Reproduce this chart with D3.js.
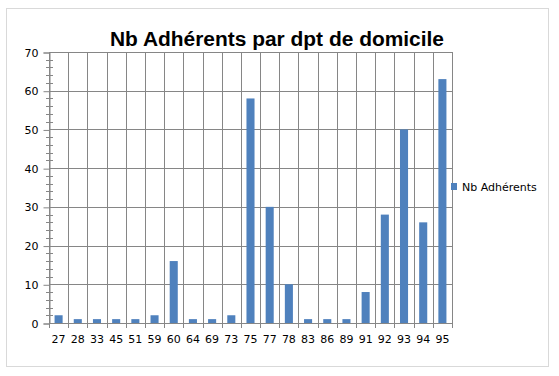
<!DOCTYPE html>
<html>
<head>
<meta charset="utf-8">
<script src="https://cdn.jsdelivr.net/npm/d3@7"></script>
<style>
  body { margin: 0; background: #fff; }
  svg { display: block; }
</style>
</head>
<body>
<svg></svg>
<script>
// Données : départements et nombre d'adhérents
const depts = ["27", "28", "33", "45", "51", "59", "60", "64", "69", "73", "75",
               "77", "78", "83", "86", "89", "91", "92", "93", "94", "95"];
const adherents = [2, 1, 1, 1, 1, 2, 16, 1, 1, 2, 58, 30, 10, 1, 1, 1, 8, 28, 50, 26, 63];
const yTicks = [0, 10, 20, 30, 40, 50, 60, 70];
const titre = "Nb Adhérents par dpt de domicile";
const serie = "Nb Adhérents";

const width = 559;
const height = 376;
const plot = { left: 49, right: 452, top: 52, bottom: 323 };
const barColor = "#4f81bd";
const gridColor = "#868686";

const svg = d3.select("svg")
    .attr("width", width)
    .attr("height", height);

// cadre du graphique
svg.append("rect")
    .attr("x", 6.5).attr("y", 8.5)
    .attr("width", 542).attr("height", 358)
    .attr("fill", "#fff")
    .attr("stroke", "#d9d9d9");

const x = d3.scaleBand()
    .domain(depts)
    .range([plot.left, plot.right])
    .paddingInner(0.58)
    .paddingOuter(0.29);

const y = d3.scaleLinear()
    .domain([0, 70])
    .range([plot.bottom, plot.top]);

// titre
const t = svg.append("text")
    .attr("x", 277)
    .attr("y", 46)
    .attr("text-anchor", "middle")
    .style("font-family", "'Liberation Sans', Arial, sans-serif")
    .style("font-weight", "bold")
    .style("font-size", "20px")
    .attr("fill", "#000")
    .text(titre);
t.attr("textLength", 334).attr("lengthAdjust", "spacingAndGlyphs");

// lignes de grille horizontales
svg.append("g")
    .selectAll("line")
    .data(yTicks)
    .join("line")
    .attr("x1", plot.left).attr("x2", plot.right)
    .attr("y1", d => Math.round(y(d)) + 0.5)
    .attr("y2", d => Math.round(y(d)) + 0.5)
    .attr("stroke", gridColor);

// lignes de grille verticales (limites des catégories)
const step = x.step();
const bounds = d3.range(depts.length + 1).map(i => plot.left + i * (plot.right - plot.left) / depts.length);
svg.append("g")
    .selectAll("line")
    .data(bounds)
    .join("line")
    .attr("x1", d => Math.round(d) + 0.5).attr("x2", d => Math.round(d) + 0.5)
    .attr("y1", plot.top).attr("y2", plot.bottom + 5)
    .attr("stroke", gridColor);

// axe Y : graduations mineures (tous les 2)
const minor = d3.range(0, 71, 2).filter(v => v % 10 !== 0);
svg.append("g")
    .selectAll("line")
    .data(minor)
    .join("line")
    .attr("x1", plot.left - 3).attr("x2", plot.left + 4)
    .attr("y1", d => Math.round(y(d)) + 0.5)
    .attr("y2", d => Math.round(y(d)) + 0.5)
    .attr("stroke", gridColor);

// axe Y
const yAxis = svg.append("g")
    .attr("transform", `translate(${plot.left + 0.5},0.5)`)
    .call(d3.axisLeft(y).tickValues(yTicks).tickSize(6).tickPadding(5));
yAxis.select(".domain").attr("stroke", gridColor);
yAxis.selectAll(".tick line").attr("stroke", gridColor);
yAxis.selectAll("text")
    .style("font-family", "'DejaVu Sans', sans-serif")
    .style("font-size", "11px")
    .attr("fill", "#000");

// axe X : étiquettes
svg.append("g")
    .selectAll("text")
    .data(depts)
    .join("text")
    .attr("x", d => x(d) + x.bandwidth() / 2)
    .attr("y", 343)
    .attr("text-anchor", "middle")
    .style("font-family", "'DejaVu Sans', sans-serif")
    .style("font-size", "11px")
    .attr("fill", "#000")
    .text(d => d);

svg.append("line")
    .attr("x1", plot.left).attr("x2", plot.right + 1)
    .attr("y1", plot.bottom + 0.5).attr("y2", plot.bottom + 0.5)
    .attr("stroke", gridColor);

// barres
svg.append("g")
    .selectAll("rect")
    .data(depts)
    .join("rect")
    .attr("x", d => x(d))
    .attr("y", (d, i) => y(adherents[i]))
    .attr("width", x.bandwidth())
    .attr("height", (d, i) => y(0) - y(adherents[i]))
    .attr("fill", barColor);

// légende
svg.append("rect")
    .attr("x", 451).attr("y", 183)
    .attr("width", 6).attr("height", 7)
    .attr("fill", barColor);
svg.append("text")
    .attr("x", 462).attr("y", 191)
    .style("font-family", "'DejaVu Sans', sans-serif")
    .style("font-size", "11px")
    .attr("fill", "#000")
    .text(serie);
</script>
</body>
</html>
